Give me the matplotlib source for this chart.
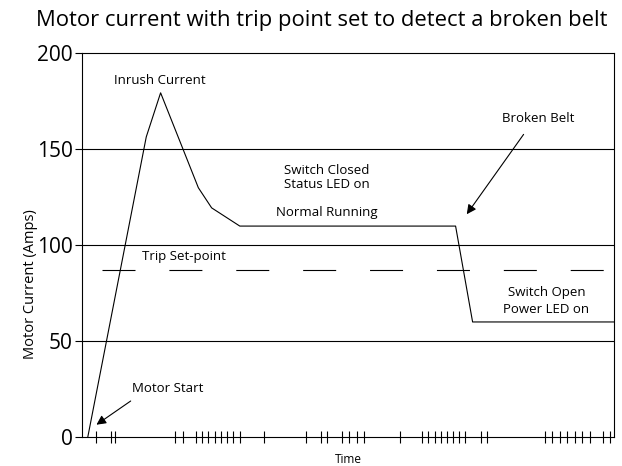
import matplotlib
matplotlib.use("Agg")
import matplotlib.pyplot as plt

plt.rcParams['font.family'] = ['Open Sans', 'DejaVu Sans']

# motor current trace (time in arbitrary units 0..100)
time = [1.0, 12.0, 14.7, 21.8, 24.3, 29.6, 70.2, 73.4, 100.0]
current = [0, 156.5, 179.5, 130, 119.5, 110, 110, 60, 60]

trip_point = 87
trip_span = [3.7, 98.8]

# irregular time marks along the axis
time_marks = [2.5, 5.3, 6.2, 17.5, 18.9, 21.4, 22.5, 23.7, 24.9, 26.1, 27.2, 28.4,
              29.7, 34.2, 42.1, 44.8, 46.1, 48.9, 50.2, 51.6, 53.0, 59.8, 63.9,
              65.1, 66.3, 67.4, 68.5, 69.7, 70.8, 72.0, 74.9, 76.1, 87.0, 88.4,
              89.8, 91.2, 92.6, 94.0, 95.4, 97.9, 99.3]
y_ticks = [0, 50, 100, 150, 200]

fig = plt.figure(figsize=(6.22, 4.66), dpi=100)
ax = fig.add_axes([0.1326, 0.0622, 0.8545, 0.823])

for y in [50, 100, 150]:
    ax.axhline(y, color='black', lw=0.8)

ax.plot(time, current, color='black', lw=0.8)
# dash lengths get scaled by lw, so 29.7 -> ~33px on screen
ax.plot(trip_span, [trip_point, trip_point], color='black', lw=0.8,
        dashes=(29.7, 30.5))

ax.set_xlim(0, 100)
ax.set_ylim(0, 200)
ax.set_yticks(y_ticks)
ax.set_xticks(time_marks)
ax.set_xticklabels([])
ax.tick_params(axis='x', direction='inout', length=8, width=0.8)
ax.tick_params(axis='y', direction='out', length=5, width=0.8, labelsize=15, pad=2)
for s in ax.spines.values():
    s.set_linewidth(0.8)

fig.text(0.517, 0.957, 'Motor current with trip point set to detect a broken belt',
         fontsize=15.8, ha='center', va='center')
ax.set_xlabel('Time', fontsize=8.5, labelpad=4)
ax.set_ylabel('Motor Current (Amps)', fontsize=10.5)
ax.yaxis.set_label_coords(-0.083, 0.4)

fs = 9.5
ax.text(14.5, 186, 'Inrush Current', fontsize=fs, ha='center', va='center')
ax.text(46, 135.5, 'Switch Closed\nStatus LED on', fontsize=fs, ha='center',
        va='center', linespacing=1.1)
ax.text(46, 117, 'Normal Running', fontsize=fs, ha='center', va='center')
ax.text(19.1, 94, 'Trip Set-point', fontsize=fs, ha='center', va='center')
ax.text(87.3, 71, 'Switch Open\nPower LED on', fontsize=fs, ha='center',
        va='center', linespacing=1.4)
ax.text(16.0, 25.5, 'Motor Start', fontsize=fs, ha='center', va='center')
ax.text(85.8, 166, 'Broken Belt', fontsize=fs, ha='center', va='center')

arrow = dict(arrowstyle='-|>', color='black', lw=0.8, mutation_scale=14)
ax.annotate('', xy=(72.0, 115), xytext=(83.3, 159), arrowprops=arrow)
ax.annotate('', xy=(2.2, 5.6), xytext=(9.5, 19.6), arrowprops=arrow)

fig.savefig('out.png', dpi=100)
